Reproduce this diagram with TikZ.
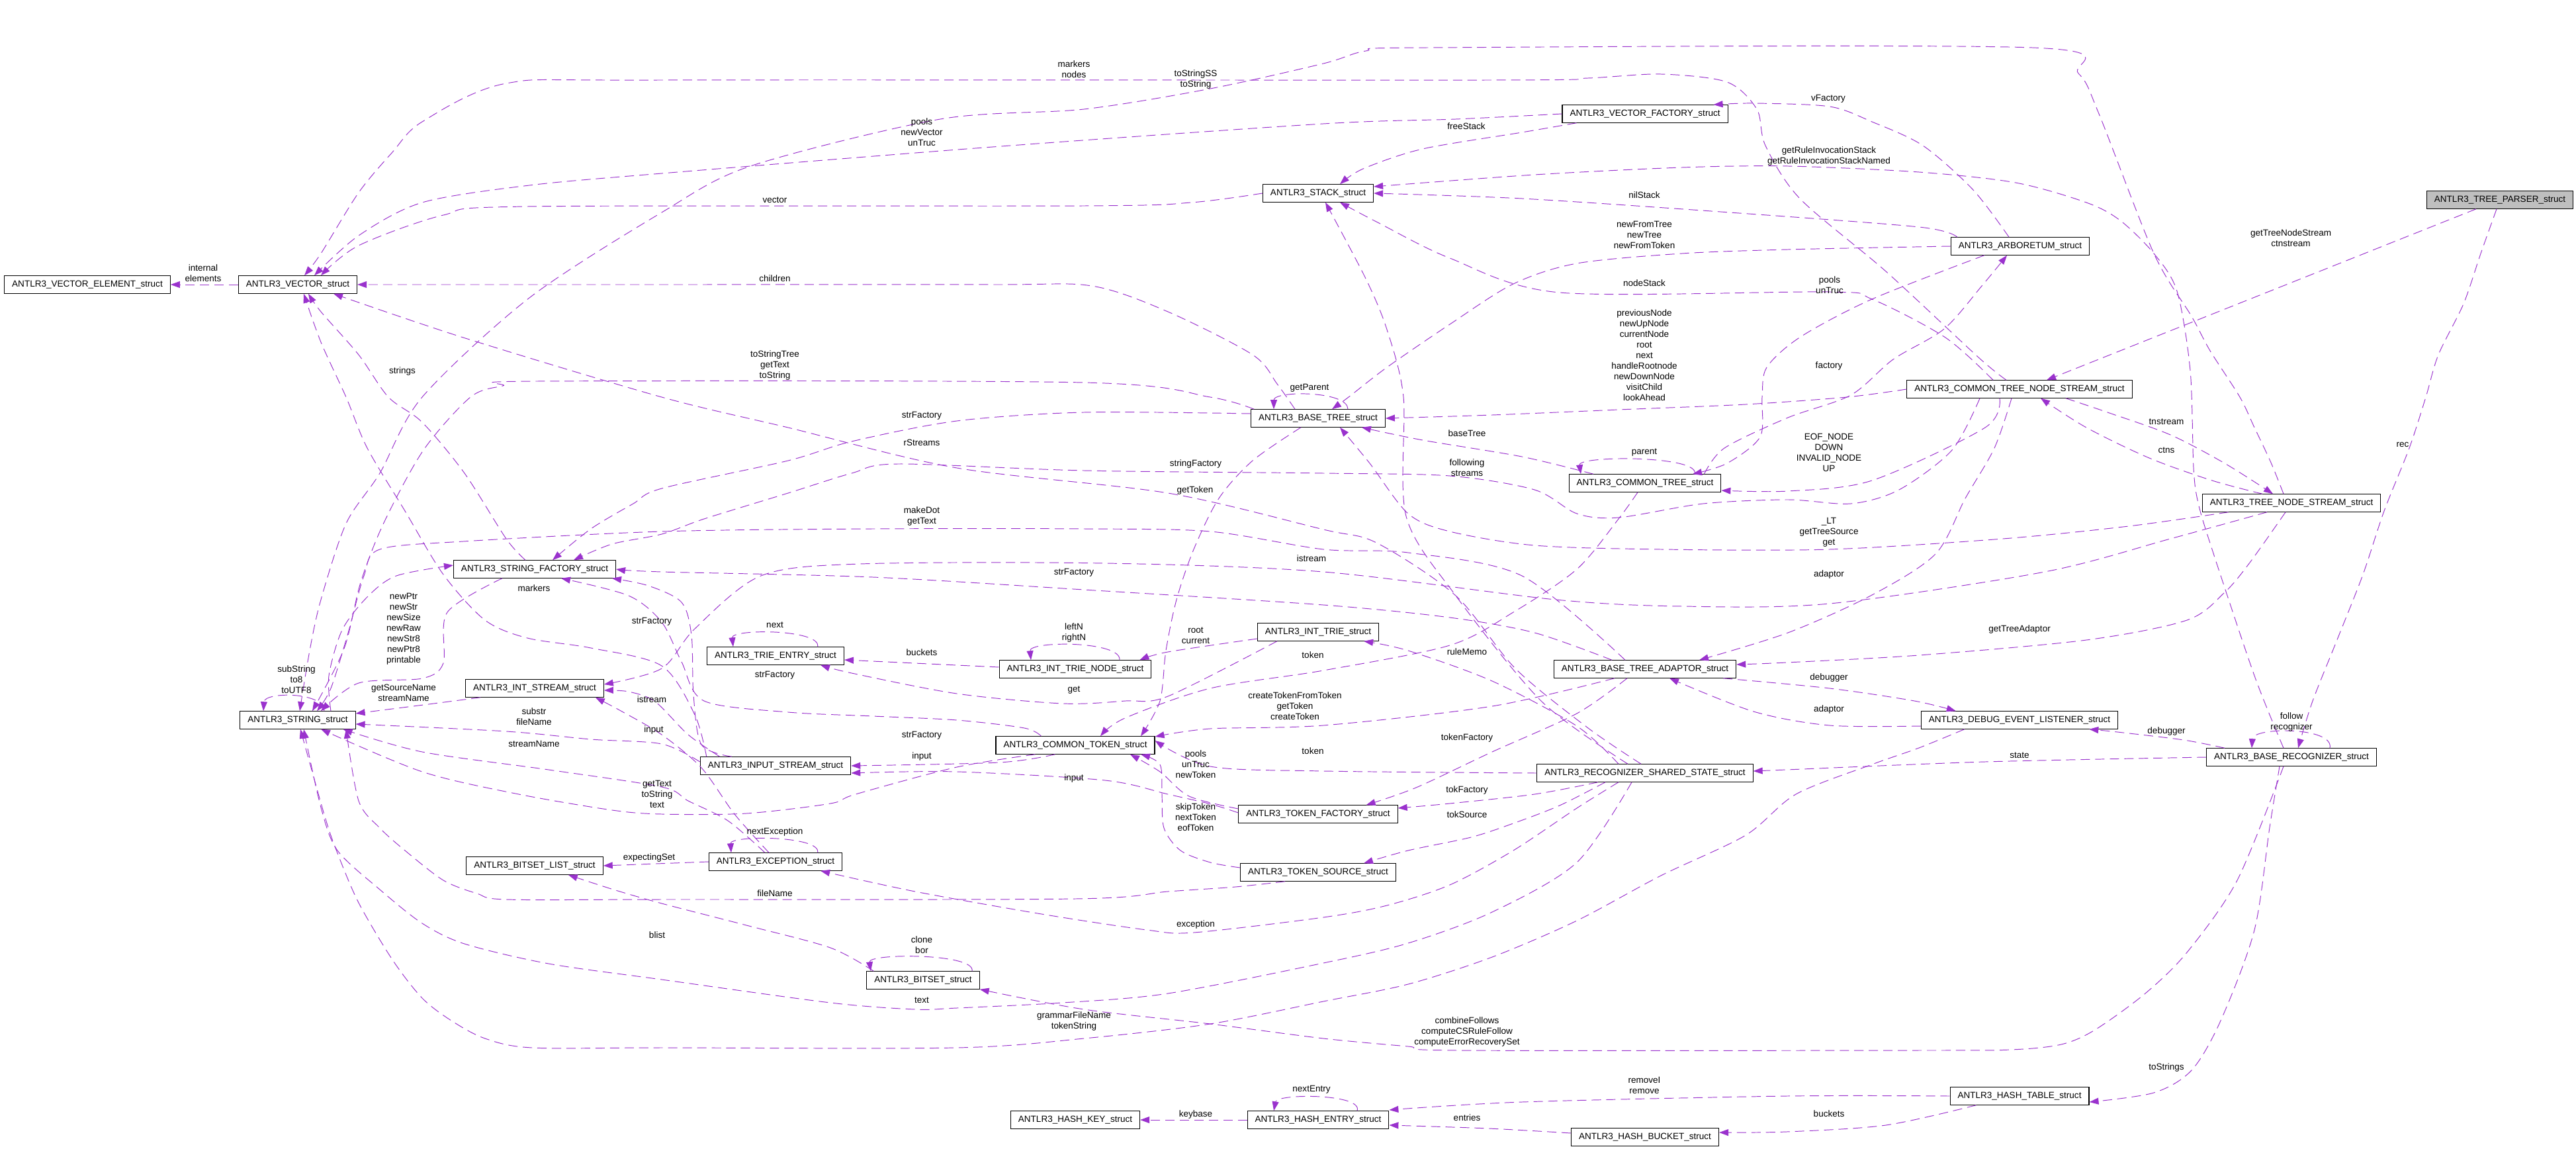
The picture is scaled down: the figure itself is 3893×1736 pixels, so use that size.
\documentclass[tikz,border=0pt]{standalone}
\usepackage{fontspec}
\setmainfont{Liberation Sans}
\usetikzlibrary{arrows.meta, calc}
\definecolor{linkpurple}{RGB}{154,50,205}
\definecolor{rootgrey}{RGB}{191,191,191}

\begin{document}
\begin{tikzpicture}[
    x=0.02cm, y=-0.02cm,
    font=\fontsize{7.7}{9.1}\selectfont,
    struct/.style={rectangle, draw, line width=0.6pt, minimum height=0.53cm, inner xsep=0.23cm, inner ysep=0pt},
    lbl/.style={align=center, inner sep=0pt},
    link/.style={draw=linkpurple, line width=0.55pt, dash pattern=on 8pt off 4.5pt, -{Triangle[length=0.28cm, width=0.2cm]}},
    sm/.style={smooth, tension=0.5}
]
\useasboundingbox (0,0) rectangle (3893,1736);

% structs
\node[struct] (vecelem) at (132,430) {ANTLR3\_VECTOR\_ELEMENT\_struct};
\node[struct] (vec) at (450,430) {ANTLR3\_VECTOR\_struct};
\node[struct] (stack) at (1992,292) {ANTLR3\_STACK\_struct};
\node[struct] (vfact) at (2486,172) {ANTLR3\_VECTOR\_FACTORY\_struct};
\node[struct] (arbo) at (3053,372) {ANTLR3\_ARBORETUM\_struct};
\node[struct, fill=rootgrey] (parser) at (3778,302) {ANTLR3\_TREE\_PARSER\_struct};
\node[struct] (ctns) at (3052,588) {ANTLR3\_COMMON\_TREE\_NODE\_STREAM\_struct};
\node[struct] (btree) at (1992,632) {ANTLR3\_BASE\_TREE\_struct};
\node[struct] (ctree) at (2486,730) {ANTLR3\_COMMON\_TREE\_struct};
\node[struct] (tns) at (3463,760) {ANTLR3\_TREE\_NODE\_STREAM\_struct};
\node[struct] (sfact) at (808,860) {ANTLR3\_STRING\_FACTORY\_struct};
\node[struct] (intstream) at (808,1040) {ANTLR3\_INT\_STREAM\_struct};
\node[struct] (string) at (450,1088) {ANTLR3\_STRING\_struct};
\node[struct] (trieentry) at (1172,991) {ANTLR3\_TRIE\_ENTRY\_struct};
\node[struct] (trienode) at (1625,1011) {ANTLR3\_INT\_TRIE\_NODE\_struct};
\node[struct] (inttrie) at (1992,955) {ANTLR3\_INT\_TRIE\_struct};
\node[struct] (ctoken) at (1625,1126) {ANTLR3\_COMMON\_TOKEN\_struct};
\node[struct] (input) at (1172,1157) {ANTLR3\_INPUT\_STREAM\_struct};
\node[struct] (btadaptor) at (2486,1011) {ANTLR3\_BASE\_TREE\_ADAPTOR\_struct};
\node[struct] (debug) at (3052,1088) {ANTLR3\_DEBUG\_EVENT\_LISTENER\_struct};
\node[struct] (brec) at (3463,1144) {ANTLR3\_BASE\_RECOGNIZER\_struct};
\node[struct] (rss) at (2486,1168) {ANTLR3\_RECOGNIZER\_SHARED\_STATE\_struct};
\node[struct] (tokfact) at (1992,1230) {ANTLR3\_TOKEN\_FACTORY\_struct};
\node[struct] (toksrc) at (1992,1318) {ANTLR3\_TOKEN\_SOURCE\_struct};
\node[struct] (exception) at (1172,1302) {ANTLR3\_EXCEPTION\_struct};
\node[struct] (bsetlist) at (808,1308) {ANTLR3\_BITSET\_LIST\_struct};
\node[struct] (bitset) at (1395,1481) {ANTLR3\_BITSET\_struct};
\node[struct] (hashkey) at (1625,1692) {ANTLR3\_HASH\_KEY\_struct};
\node[struct] (hashentry) at (1992,1692) {ANTLR3\_HASH\_ENTRY\_struct};
\node[struct] (hashbucket) at (2486,1718) {ANTLR3\_HASH\_BUCKET\_struct};
\node[struct] (hashtable) at (3052,1656) {ANTLR3\_HASH\_TABLE\_struct};

% member links
\draw[link] (vec.west) -- (vecelem.east);
\draw[link] plot[sm] coordinates {($(ctns.north)+(-20,0)$) (2990,540) (2850,410) (2720,300) (2668,220) (2655,165) (2610,124) (2510,112) (2400,118) (2255,121) (1000,121) (765,126) (638,184) (593,230) (542,291) (485,383) ($(vec.north)+(10,0)$)};
\draw[link] plot[sm] coordinates {($(tns.north)+(-12,0)$) (3432,699) (3407,646) (3385,600) (3340,530) (3312,478) (3255,383) (3172,172) (3141,111) (3071,72) (2160,72) (2064,77) (2000,96) (1829,134) (1638,165) (1421,180) (1134,251) (1000,321) (800,450) (638,600) (574,715) (523,791) (485,906) (468,983) ($(string.north)+(3,0)$)};
\draw[link] plot[sm] coordinates {(vfact.west) (2200,180) (2000,187) (1500,222) (1000,262) (800,280) (638,306) (542,356) ($(vec.north)+(25,0)$)};
\draw[link] plot[sm] coordinates {(stack.west) (1800,306) (1638,311) (797,312) (670,325) (542,371) ($(vec.north)+(35,0)$)};
\draw[link] plot[sm] coordinates {($(btree.north)+(-35,0)$) (1930,580) (1893,536) (1765,471) (1650,432) (1500,430) (1000,430) (vec.east)};
\draw[link] plot[sm] coordinates {($(btree.north west)+(5,0)$) (1829,600) (1638,578) (810,576) (760,583) (711,600) (640,680) (580,790) (545,880) (520,980) ($(string.north)+(22,0)$)};
\draw[link] plot[sm] coordinates {($(sfact.north)+(-14,0)$) (765,814) (702,715) (638,638) (587,600) (542,536) (485,471) ($(vec.south)+(16,0)$)};
\draw[link] plot[sm] coordinates {($(input.north west)+(10,0)$) (1050,1080) (1000,1006) (893,979) (797,964) (733,937) (670,868) (612,772) (555,677) (523,600) (485,517) ($(vec.south)+(9,0)$)};
\draw[link] plot[sm] coordinates {($(rss.north)+(-6,0)$) (2400,1100) (2290,1010) (2200,900) (2080,820) (2000,800) (1765,745) (1446,707) (1191,646) (1000,600) (700,510) ($(vec.south)+(54,0)$)};

\draw[link] plot[sm] coordinates {($(ctns.north)+(-40,0)$) (2940,510) (2829,452) (2765,441) (2357,442) (2191,390) (2080,335) ($(stack.south)+(33,0)$)};
\draw[link] plot[sm] coordinates {($(arbo.north west)+(10,0)$) (2900,343) (2600,320) (2300,300) (stack.east)};
\draw[link] plot[sm] coordinates {($(vfact.south west)+(22,0)$) (2300,200) (2150,225) (2060,255) ($(stack.north)+(33,0)$)};
\draw[link] plot[sm] coordinates {($(brec.north)+(-12,0)$) (3407,1021) (3343,830) (3322,760) (3315,707) (3310,560) (3290,440) (3255,383) (3204,333) (3153,306) (3046,276) (2900,260) (2702,251) (2542,253) (2319,264) ($(stack.east)+(0,-10)$)};
\draw[link] plot[sm] coordinates {($(rss.north)+(-26,0)$) (2330,1060) (2200,900) (2125,780) (2121,600) (2096,498) (2064,421) ($(stack.south)+(11,0)$)};
\draw[link] plot[sm] coordinates {($(arbo.north)+(-17,0)$) (2982,287) (2906,220) (2829,184) (2765,161) (2650,156) ($(vfact.north east)+(-22,0)$)};

\draw[link] plot[sm] coordinates {(arbo.west) (2702,377) (2542,383) (2383,398) (2287,429) (2191,490) (2096,555) (2038,600) ($(btree.north)+(21,0)$)};
\draw[link] ($(btree.north)+(45,0)$) .. controls (2037,590) and (1925,590) .. ($(btree.north)+(-67,0)$);
\draw[link] plot[sm] coordinates {(ctns.west) (2791,600) (2638,611) (2446,619) (2255,627) (btree.east)};
\draw[link] plot[sm] coordinates {($(ctree.north)+(-78,0)$) (2300,690) (2150,665) ($(btree.south east)+(-36,0)$)};
\draw[link] plot[sm] coordinates {($(tns.south west)+(40,0)$) (3217,795) (3027,814) (2765,830) (2510,830) (2319,824) (2191,803) (2128,776) (2070,700) ($(btree.south)+(33,0)$)};

\draw[link] plot[sm] coordinates {($(ctree.north east)+(-26,0)$) (2606,677) (2702,631) (2797,597) (2861,543) (2938,497) (2995,432) ($(arbo.south)+(-20,0)$)};
\draw[link] plot[sm] coordinates {($(arbo.south west)+(51,0)$) (2829,452) (2721,509) (2670,555) (2663,600) (2660,660) (2610,700) ($(ctree.north)+(72,0)$)};
\draw[link] ($(ctree.north)+(75,0)$) .. controls (2570,688) and (2385,688) .. ($(ctree.north)+(-97,0)$);
\draw[link] plot[sm] coordinates {($(ctns.south)+(-30,0)$) (3000,646) (2829,726) (2702,742) ($(ctree.east)+(0,11)$)};

\draw[link] plot[sm] coordinates {($(ctns.south)+(-60,0)$) (2950,680) (2870,740) (2797,761) (2702,755) (2574,761) (2446,782) (2383,776) (2319,740) (2191,719) (2000,715) (1638,711) (1357,701) (1287,715) (1191,745) (1064,784) (1000,807) (925,822) ($(sfact.north)+(59,0)$)};
\draw[link] plot[sm] coordinates {($(btree.west)+(0,-7)$) (1638,623) (1446,636) (1287,667) (1191,696) (1000,738) (957,761) (893,799) ($(sfact.north)+(27,0)$)};
\draw[link] plot[sm] coordinates {($(tns.north)+(-44,0)$) (3343,726) (3248,692) (3153,646) ($(ctns.south)+(32,0)$)};
\draw[link] plot[sm] coordinates {($(ctns.south)+(70,0)$) (3185,623) (3280,657) (3362,700) ($(tns.north)+(-28,0)$)};
\draw[link] ($(parser.south)+(-36,0)$) -- ($(ctns.north)+(41,0)$);
\draw[link] plot[sm] coordinates {($(parser.south)+(-5,0)$) (3749,383) (3723,459) (3685,536) (3666,600) (3641,677) (3603,772) (3571,868) (3533,964) (3495,1059) ($(brec.north)+(10,0)$)};
\draw[link] ($(brec.north)+(58,0)$) .. controls (3528,1098) and (3405,1098) .. ($(brec.north)+(-60,0)$);
\draw[link] plot[sm] coordinates {($(brec.north west)+(28,0)$) (3300,1118) (3200,1106) ($(debug.south east)+(-44,0)$)};
\draw[link] plot[sm] coordinates {(brec.west) (3000,1151) (2700,1163) ($(rss.east)+(0,-3)$)};
\draw[link] plot[sm] coordinates {($(tns.south)+(-9,0)$) (3400,850) (3362,895) (3305,937) (3153,967) (2900,990) (2700,1001) ($(btadaptor.east)+(0,-7)$)};
\draw[link] plot[sm] coordinates {($(tns.south)+(-37,0)$) (3280,814) (3090,864) (2765,912) (2542,916) (2351,906) (2000,864) (1670,851) (1300,852) (1150,870) (1050,950) (1000,1010) ($(intstream.east)+(0,-6)$)};
\draw[link] plot[sm] coordinates {($(ctns.south)+(-12,0)$) (3014,677) (2970,753) (2925,837) (2829,899) (2702,956) ($(btadaptor.north)+(82,0)$)};

\draw[link] plot[sm] coordinates {(rss.west) (2000,1165) (1829,1158) ($(ctoken.east)+(0,-7)$)};
\draw[link] plot[sm] coordinates {($(ctree.south)+(-11,0)$) (2446,784) (2383,860) (2287,925) (2191,975) (2000,1013) (1829,1040) (1700,1085) ($(ctoken.north)+(38,0)$)};
\draw[link] plot[sm] coordinates {($(btree.south)+(-26,0)$) (1893,696) (1842,753) (1804,830) (1778,906) (1762,983) (1753,1059) ($(ctoken.north)+(99,0)$)};
\draw[link] plot[sm] coordinates {($(btadaptor.south)+(-46,0)$) (2255,1067) (2000,1096) (1829,1101) ($(ctoken.east)+(0,-13)$)};
\draw[link] plot[sm] coordinates {($(inttrie.west)+(0,10)$) (1765,985) ($(trienode.north east)+(-18,0)$)};
\draw[link] plot[sm] coordinates {($(inttrie.south west)+(30,0)$) (1765,1052) (1701,1059) (1606,1063) (1446,1048) (1287,1017) ($(trieentry.south east)+(-36,0)$)};
\draw[link] ($(trienode.west)+(0,-3)$) -- ($(trieentry.east)+(0,6)$);
\draw[link] ($(trienode.north)+(67,0)$) .. controls (1695,968) and (1555,968) .. ($(trienode.north)+(-67,0)$);
\draw[link] ($(trieentry.north)+(64,0)$) .. controls (1240,950) and (1105,950) .. ($(trieentry.north)+(-64,0)$);
\draw[link] plot[sm] coordinates {($(rss.north)+(-40,0)$) (2383,1097) (2255,1029) (2128,983) ($(inttrie.south east)+(-23,0)$)};

\draw[link] plot[sm] coordinates {($(btadaptor.south)+(-27,0)$) (2383,1078) (2255,1136) (2140,1190) ($(tokfact.north east)+(-48,0)$)};
\draw[link] plot[sm] coordinates {($(rss.south)+(-71,0)$) (2319,1200) (2191,1214) ($(tokfact.east)+(0,-9)$)};
\draw[link] plot[sm] coordinates {($(rss.south)+(-60,0)$) (2357,1217) (2287,1244) (2223,1265) (2128,1285) ($(toksrc.north)+(69,0)$)};
\draw[link] plot[sm] coordinates {($(rss.south)+(-40,0)$) (2383,1221) (2287,1285) (2191,1337) (2096,1368) (2000,1386) (1804,1409) (1733,1405) (1574,1381) (1383,1347) ($(exception.south east)+(-33,0)$)};
\draw[link] plot[sm] coordinates {($(rss.south)+(-20,0)$) (2383,1303) (2255,1378) (2128,1425) (2000,1455) (1765,1501) (1606,1515) (1446,1523) (1383,1525) (1255,1515) (1000,1480) (829,1456) (702,1426) (638,1395) (574,1344) (510,1285) (485,1220) ($(string.south)+(9,0)$)};
\draw[link] plot[sm] coordinates {($(debug.south west)+(66,0)$) (2900,1130) (2829,1155) (2714,1200) (2638,1262) (2510,1323) (2383,1391) (2255,1446) (2128,1487) (2000,1513) (1829,1547) (1638,1569) (1446,1583) (1000,1583) (804,1583) (733,1569) (682,1542) (638,1508) (593,1450) (542,1364) (510,1289) (491,1234) ($(string.south)+(4,0)$)};
\draw[link] plot[sm] coordinates {($(brec.south)+(-12,0)$) (3381,1330) (3305,1439) (3242,1501) (3166,1556) (3115,1578) (3039,1586) (2900,1587) (2204,1587) (2128,1581) (2000,1569) (1829,1547) (1638,1525) (bitset.south east)};
\draw[link] plot[sm] coordinates {($(brec.south)+(-18,0)$) (3430,1250) (3407,1405) (3356,1542) (3312,1617) (3255,1651) ($(hashtable.east)+(0,9)$)};
\draw[link] plot[sm] coordinates {(hashtable.west) (2700,1656) (2300,1665) ($(hashentry.east)+(0,-15)$)};
\draw[link] plot[sm] coordinates {($(hashtable.south west)+(40,0)$) (2850,1700) (2700,1710) ($(hashbucket.east)+(0,-7)$)};
\draw[link] plot[sm] coordinates {($(hashbucket.west)+(0,-6)$) (2250,1705) ($(hashentry.east)+(0,8)$)};
\draw[link] (hashentry.west) -- (hashkey.east);
\draw[link] ($(hashentry.north)+(59,0)$) .. controls (2060,1652) and (1930,1652) .. ($(hashentry.north)+(-67,0)$);

\draw[link] plot[sm] coordinates {($(intstream.south west)+(23,0)$) (640,1065) ($(string.east)+(0,-10)$)};
\draw[link] plot[sm] coordinates {($(sfact.south west)+(74,0)$) (676,925) (670,1002) (638,1025) (542,1032) ($(string.north)+(35,0)$)};
\draw[link] plot[sm] coordinates {($(string.north)+(50,0)$) (497,1021) (517,952) (555,902) (599,870) ($(sfact.west)+(0,-6)$)};
\draw[link] ($(string.north)+(40,0)$) .. controls (490,1045) and (400,1045) .. ($(string.north)+(-52,0)$);
\draw[link] plot[sm] coordinates {($(input.west)+(0,-6)$) (1000,1124) (893,1117) (765,1105) ($(string.east)+(0,6)$)};
\draw[link] plot[sm] coordinates {($(ctoken.south west)+(60,0)$) (1446,1159) (1293,1200) (1255,1214) (1128,1229) (1000,1230) (925,1224) (784,1200) (638,1166) ($(string.south)+(35,0)$)};
\draw[link] plot[sm] coordinates {($(exception.north)+(-16,0)$) (1100,1240) (1040,1210) (1000,1189) (829,1163) (638,1136) ($(string.south east)+(-19,0)$)};
\draw[link] plot[sm] coordinates {($(toksrc.south west)+(68,0)$) (1867,1340) (1765,1347) (1625,1358) (1000,1359) (765,1359) (721,1350) (670,1330) (612,1285) (574,1251) (542,1210) ($(string.south)+(73,0)$)};
\draw[link] plot[sm] coordinates {($(btadaptor.north)+(-30,0)$) (2300,870) (2128,835) (2000,830) (1829,803) (1638,799) (1319,799) (1000,803) (700,818) (574,830) (550,870) (525,960) (500,1040) ($(string.north)+(29,0)$)};
\draw[link] plot[sm] coordinates {($(btadaptor.north)+(-50,0)$) (2319,956) (2191,933) (2000,914) (1638,891) (1319,872) (1000,864) (sfact.east)};
\draw[link] plot[sm] coordinates {($(input.north west)+(48,0)$) (1060,1125) (1048,1050) (1045,960) (1030,910) (980,885) ($(sfact.south east)+(-6,0)$)};
\draw[link] plot[sm] coordinates {($(ctoken.north west)+(69,0)$) (1548,1100) (1446,1088) (1319,1082) (1191,1076) (1064,1059) (1030,1000) (1000,940) (950,900) ($(sfact.south)+(40,0)$)};
\draw[link] plot[sm] coordinates {($(input.north west)+(30,0)$) (1040,1110) (990,1060) (950,1045) ($(intstream.east)+(0,3)$)};
\draw[link] plot[sm] coordinates {($(exception.north)+(-10,0)$) (1110,1230) (1060,1160) (1000,1110) (940,1075) ($(intstream.south east)+(-13,0)$)};

\draw[link] ($(exception.north)+(64,0)$) .. controls (1240,1262) and (1103,1262) .. ($(exception.north)+(-67,0)$);
\draw[link] (exception.west) -- (bsetlist.east);
\draw[link] plot[sm] coordinates {($(bitset.north west)+(11,0)$) (1255,1432) (1128,1398) (1000,1365) (927,1344) ($(bsetlist.south east)+(-53,0)$)};
\draw[link] ($(bitset.north)+(74,0)$) .. controls (1475,1440) and (1312,1440) .. ($(bitset.north)+(-79,0)$);
\draw[link] plot[sm] coordinates {($(toksrc.west)+(0,-7)$) (1829,1303) (1784,1285) (1759,1251) (1756,1200) (1753,1155) ($(ctoken.south)+(99,0)$)};
\draw[link] plot[sm] coordinates {($(tokfact.west)+(0,-8)$) (1797,1203) (1753,1166) ($(ctoken.south)+(83,0)$)};
\draw[link] plot[sm] coordinates {($(tokfact.west)+(0,-2)$) (1830,1215) (1765,1200) (1670,1179) (1446,1166) ($(input.east)+(0,11)$)};
\draw[link] plot[sm] coordinates {($(ctoken.south west)+(90,0)$) (1510,1152) (input.east)};
\draw[link] plot[sm] coordinates {($(btadaptor.south east)+(-20,0)$) (2765,1040) (2893,1059) ($(debug.north west)+(53,0)$)};
\draw[link] plot[sm] coordinates {($(debug.west)+(0,9)$) (2765,1096) (2650,1075) ($(btadaptor.south)+(37,0)$)};

% member names
\node[lbl] (l-internal) at (307,413) {internal\\elements};
\node[lbl] (l-markers) at (1623,105) {markers\\nodes};
\node[lbl] (l-tostringss) at (1807,120) {toStringSS\\toString};
\node[lbl] (l-pools) at (1393,200) {pools\\newVector\\unTruc};
\node[lbl] (l-vector) at (1171,302) {vector};
\node[lbl] (l-children) at (1171,421) {children};
\node[lbl] (l-tostringtree) at (1171,552) {toStringTree\\getText\\toString};
\node[lbl] (l-strings) at (608,561) {strings};
\node[lbl] (l-vfactory) at (2763,149) {vFactory};
\node[lbl] (l-freestack) at (2216,191) {freeStack};
\node[lbl] (l-ruleinv) at (2764,236) {getRuleInvocationStack\\getRuleInvocationStackNamed};
\node[lbl] (l-nilstack) at (2485,295) {nilStack};
\node[lbl] (l-newtree) at (2485,355) {newFromTree\\newTree\\newFromToken};
\node[lbl] (l-nodestack) at (2485,428) {nodeStack};
\node[lbl] (l-poolsarbo) at (2765,431) {pools\\unTruc};
\node[lbl] (l-nodes) at (2485,537) {previousNode\\newUpNode\\currentNode\\root\\next\\handleRootnode\\newDownNode\\visitChild\\lookAhead};
\node[lbl] (l-factoryarbo) at (2764,553) {factory};
\node[lbl] (l-gettns) at (3462,360) {getTreeNodeStream\\ctnstream};
\node[lbl] (l-getparent) at (1979,586) {getParent};
\node[lbl] (l-strfbtree) at (1393,628) {strFactory};
\node[lbl] (l-tnstream) at (3274,637) {tnstream};
\node[lbl] (l-eof) at (2764,684) {EOF\_NODE\\DOWN\\INVALID\_NODE\\UP};
\node[lbl] (l-basetree) at (2217,655) {baseTree};
\node[lbl] (l-rstreams) at (1393,669) {rStreams};
\node[lbl] (l-ctns) at (3274,680) {ctns};
\node[lbl] (l-parent) at (2485,684) {parent};
\node[lbl] (l-rec) at (3631,672) {rec};
\node[lbl] (l-stringfactory) at (1807,701) {stringFactory};
\node[lbl] (l-following) at (2217,707) {following\\streams};
\node[lbl] (l-gettoken) at (1806,741) {getToken};
\node[lbl] (l-makedot) at (1393,780) {makeDot\\getText};
\node[lbl] (l-lt) at (2764,804) {\_LT\\getTreeSource\\get};
\node[lbl] (l-istreamtns) at (1982,844) {istream};
\node[lbl] (l-strfbta) at (1623,865) {strFactory};
\node[lbl] (l-adaptorctns) at (2764,868) {adaptor};
\node[lbl] (l-markersin) at (807,889) {markers};
\node[lbl] (l-strfinput) at (985,939) {strFactory};
\node[lbl] (l-newptr) at (610,950) {newPtr\\newStr\\newSize\\newRaw\\newStr8\\newPtr8\\printable};
\node[lbl] (l-next) at (1171,944) {next};
\node[lbl] (l-gettreeadaptor) at (3052,951) {getTreeAdaptor};
\node[lbl] (l-leftn) at (1623,956) {leftN\\rightN};
\node[lbl] (l-root) at (1807,960) {root\\current};
\node[lbl] (l-tokenctree) at (1984,990) {token};
\node[lbl] (l-bucketstrie) at (1393,986) {buckets};
\node[lbl] (l-rulememo) at (2217,985) {ruleMemo};
\node[lbl] (l-strfctoken) at (1171,1020) {strFactory};
\node[lbl] (l-debuggerbta) at (2764,1024) {debugger};
\node[lbl] (l-substring) at (448,1027) {subString\\to8\\toUTF8};
\node[lbl] (l-get) at (1623,1043) {get};
\node[lbl] (l-sourcename) at (610,1047) {getSourceName\\streamName};
\node[lbl] (l-istreaminput) at (985,1057) {istream};
\node[lbl] (l-createtoken) at (1957,1067) {createTokenFromToken\\getToken\\createToken};
\node[lbl] (l-adaptordebug) at (2764,1072) {adaptor};
\node[lbl] (l-substr) at (807,1083) {substr\\fileName};
\node[lbl] (l-follow) at (3463,1091) {follow\\recognizer};
\node[lbl] (l-inputexc) at (988,1103) {input};
\node[lbl] (l-debuggerbrec) at (3274,1105) {debugger};
\node[lbl] (l-strfsrc) at (1393,1111) {strFactory};
\node[lbl] (l-tokenfactory) at (2217,1115) {tokenFactory};
\node[lbl] (l-streamname) at (807,1124) {streamName};
\node[lbl] (l-tokenrss) at (1984,1135) {token};
\node[lbl] (l-state) at (3052,1141) {state};
\node[lbl] (l-inputtoken) at (1393,1143) {input};
\node[lbl] (l-newtoken) at (1807,1155) {pools\\unTruc\\newToken};
\node[lbl] (l-inputfact) at (1623,1176) {input};
\node[lbl] (l-tokfactory) at (2217,1194) {tokFactory};
\node[lbl] (l-gettext) at (993,1200) {getText\\toString\\text};
\node[lbl] (l-skiptoken) at (1807,1235) {skipToken\\nextToken\\eofToken};
\node[lbl] (l-toksource) at (2217,1231) {tokSource};
\node[lbl] (l-nextexc) at (1171,1257) {nextException};
\node[lbl] (l-expecting) at (981,1296) {expectingSet};
\node[lbl] (l-filename) at (1171,1350) {fileName};
\node[lbl] (l-exception) at (1807,1397) {exception};
\node[lbl] (l-blist) at (993,1413) {blist};
\node[lbl] (l-clone) at (1393,1428) {clone\\bor};
\node[lbl] (l-text) at (1393,1511) {text};
\node[lbl] (l-grammar) at (1623,1543) {grammarFileName\\tokenString};
\node[lbl] (l-follows) at (2217,1559) {combineFollows\\computeCSRuleFollow\\computeErrorRecoverySet};
\node[lbl] (l-tostrings) at (3274,1613) {toStrings};
\node[lbl] (l-remove) at (2485,1640) {removeI\\remove};
\node[lbl] (l-nextentry) at (1982,1646) {nextEntry};
\node[lbl] (l-bucketshash) at (2764,1683) {buckets};
\node[lbl] (l-keybase) at (1807,1684) {keybase};
\node[lbl] (l-entries) at (2217,1689) {entries};

\end{tikzpicture}
\end{document}
